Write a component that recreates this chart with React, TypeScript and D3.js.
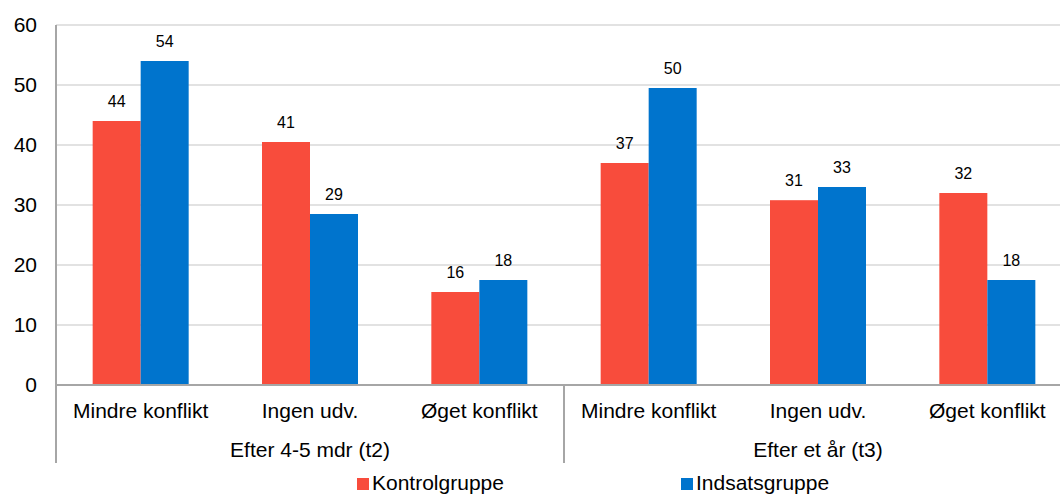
import React, { useEffect, useRef } from 'react';
import * as d3 from 'd3';

const groups = ['Efter 4-5 mdr (t2)', 'Efter et år (t3)'];
const categories = ['Mindre konflikt', 'Ingen udv.', 'Øget konflikt'];
const seriesNames = ['Kontrolgruppe', 'Indsatsgruppe'];
const kontrol = [44, 40.5, 15.5, 37, 30.8, 32];
const indsats = [54, 28.5, 17.5, 49.5, 33, 17.5];
const yTicks = [0, 10, 20, 30, 40, 50, 60];
const colors = ['#f84c3c', '#0074cd'];

function App() {
  const svgRef = useRef() as React.RefObject<SVGSVGElement>;

  useEffect(() => {
    const width = 1060;
    const margin = { top: 25, left: 56 };
    const plotRight = 1072;
    const y0 = 385;

    const svg = d3.select(svgRef.current);
    svg.selectAll('*').remove();

    const font = '"Liberation Sans", Arial, sans-serif';
    const fs = 21;

    const keys = groups.flatMap((g, gi) => categories.map((c, ci) => `${gi}-${ci}`));
    const x = d3.scaleBand().domain(keys).range([margin.left, plotRight]);
    const xInner = d3.scaleBand().domain(['0', '1']).range([0, 96]);
    const y = d3.scaleLinear().domain([0, 60]).range([y0, margin.top]);

    // gridlines
    svg.append('g')
      .selectAll('line')
      .data(yTicks.filter(t => t > 0))
      .join('line')
      .attr('x1', margin.left)
      .attr('x2', width)
      .attr('y1', d => y(d))
      .attr('y2', d => y(d))
      .attr('stroke', '#d9d9d9')
      .attr('stroke-width', 1.5);

    // y tick labels
    svg.append('g')
      .selectAll('text')
      .data(yTicks)
      .join('text')
      .attr('x', 37)
      .attr('y', d => y(d))
      .attr('dy', '0.35em')
      .attr('text-anchor', 'end')
      .attr('font-family', font)
      .attr('font-size', fs)
      .attr('fill', '#000')
      .text(d => d);

    // bars
    const rows = keys.map((k, i) => ({ key: k, vals: [kontrol[i], indsats[i]] }));
    const bar = svg.append('g')
      .selectAll('g')
      .data(rows)
      .join('g')
      .attr('transform', d => `translate(${(x(d.key) as number) + x.bandwidth() / 2 - 48},0)`);

    bar.selectAll('rect')
      .data(d => d.vals.map((v, s) => ({ v, s })))
      .join('rect')
      .attr('x', d => xInner(String(d.s)) as number)
      .attr('width', xInner.bandwidth())
      .attr('y', d => y(d.v))
      .attr('height', d => y0 - y(d.v))
      .attr('fill', d => colors[d.s]);

    bar.selectAll('text')
      .data(d => d.vals.map((v, s) => ({ v, s })))
      .join('text')
      .attr('x', d => (xInner(String(d.s)) as number) + xInner.bandwidth() / 2)
      .attr('y', d => y(d.v) - 14)
      .attr('text-anchor', 'middle')
      .attr('font-family', font)
      .attr('font-size', 16)
      .attr('fill', '#000')
      .text(d => Math.round(d.v));

    // axes
    svg.append('line')
      .attr('x1', margin.left).attr('x2', width)
      .attr('y1', y0).attr('y2', y0)
      .attr('stroke', '#a6a6a6').attr('stroke-width', 2);

    const groupWidth = x.bandwidth() * categories.length;
    [0, 1, 2].forEach(i => {
      const xx = margin.left + i * groupWidth;
      svg.append('line')
        .attr('x1', xx).attr('x2', xx)
        .attr('y1', i === 0 ? margin.top : y0).attr('y2', 463)
        .attr('stroke', '#a6a6a6').attr('stroke-width', 2);
    });

    // category labels
    svg.append('g')
      .selectAll('text')
      .data(keys)
      .join('text')
      .attr('x', d => (x(d) as number) + x.bandwidth() / 2)
      .attr('y', 418)
      .attr('text-anchor', 'middle')
      .attr('font-family', font)
      .attr('font-size', fs)
      .attr('fill', '#000')
      .text(d => categories[+d.split('-')[1]]);

    svg.append('g')
      .selectAll('text')
      .data(groups)
      .join('text')
      .attr('x', (d, i) => margin.left + (i + 0.5) * groupWidth)
      .attr('y', 457)
      .attr('text-anchor', 'middle')
      .attr('font-family', font)
      .attr('font-size', fs)
      .attr('fill', '#000')
      .text(d => d);

    // legend
    const legendX = [357, 681];
    const legend = svg.append('g')
      .selectAll('g')
      .data(seriesNames)
      .join('g')
      .attr('transform', (d, i) => `translate(${legendX[i]},490)`);
    legend.append('rect')
      .attr('x', 0).attr('y', -12)
      .attr('width', 12).attr('height', 12)
      .attr('fill', (d, i) => colors[i]);
    legend.append('text')
      .attr('x', 15)
      .attr('y', 0)
      .attr('font-family', font)
      .attr('font-size', fs)
      .attr('fill', '#000')
      .text(d => d);
  }, []);

  return (
    <div>
      <svg ref={svgRef} width={1060} height={495} style={{ position: 'absolute', left: 0, top: 0 }}></svg>
    </div>
  );
}

export default App;
